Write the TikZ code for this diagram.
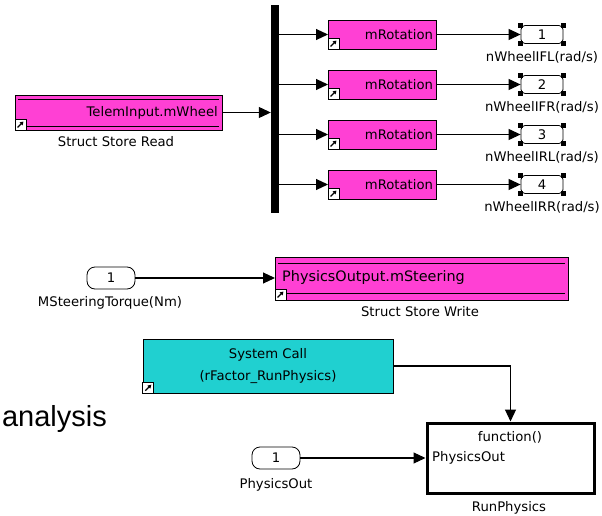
\documentclass[tikz,border=0pt]{standalone}
\usepackage{fontspec}
\setmainfont{DejaVu Sans}
\newfontfamily\slidefont{Liberation Sans}
\usetikzlibrary{arrows.meta,positioning}
\definecolor{mag}{RGB}{255,64,212}
\definecolor{cyn}{RGB}{32,208,208}
% shortcut mark in the lower left corner of a block
\newcommand\lnk[1]{%
  \draw[fill=white, line width=0.8pt] (#1) rectangle ++(11,-11);
  \draw[line width=1.2pt, -{Triangle[length=3.5pt,width=4pt]}] ([shift={(2.5,-2.5)}]#1) -- ++(6,-6);}

\begin{document}
\begin{tikzpicture}[x=1pt, y=-1pt, font=\fontsize{13.2}{16}\selectfont,
  arr/.style={-{Triangle[length=12pt,width=11pt]}, line width=1.1pt},
  blk/.style={draw, fill=mag, inner sep=0pt, outer sep=0pt},
  port/.style={draw, line width=0.8pt, rounded corners=8pt, minimum width=48pt, minimum height=22pt, inner sep=0pt},
  lbl/.style={inner sep=0pt}]
\useasboundingbox (0,0) rectangle (602,516);

% store read and bus
\node[blk, minimum width=207pt, minimum height=35pt] (ssr) at (118.5,112.5) {};
\draw ([shift={(3,4)}]ssr.north west) -- ([shift={(-3,4)}]ssr.north east);
\draw ([shift={(3,-4)}]ssr.south west) -- ([shift={(-3,-4)}]ssr.south east);
\node[left, inner sep=0pt] at ([xshift=-4pt]ssr.east) {TelemInput.mWheel};
\lnk{ssr.south west}
\node[lbl] at (116,142) {Struct Store Read};
\node[fill=black, minimum width=8pt, minimum height=208pt, inner sep=0pt] (bus) at (275,109) {};
\draw[arr] (ssr.east) -- (ssr.east -| bus.west);

\foreach \i/\n/\y in {1/FL/34.5, 2/FR/84.5, 3/RL/134.5, 4/RR/184.5} {
  \node[blk, minimum width=108pt, minimum height=29pt, text width=102pt, align=right, inner xsep=3pt] (r\i) at (382,\y) {mRotation};
  \lnk{r\i.south west}
  \node[port, rounded corners=4pt, minimum width=42pt, minimum height=18pt] (o\i) at (542,\y) {\i};
  \foreach \a in {north west,north east,south west,south east}
    \fill (o\i.\a) ++(-2.5,-2.5) rectangle ++(5,5);
  \node[lbl] at (542,\y+23) {nWheelI\n(rad/s)};
  \draw[arr] (bus.east |- r\i.west) -- (r\i.west);
  \draw[arr] (r\i.east) -- (o\i.west);
}

% store write
\node[port] (in1) at (111,278) {1};
\node[lbl] at (110,303) {MSteeringTorque(Nm)};
\node[blk, minimum width=293pt, minimum height=43pt] (ssw) at (421.5,278.5) {};
\draw ([shift={(3,6)}]ssw.north west) -- ([shift={(-3,6)}]ssw.north east);
\draw ([shift={(3,-7)}]ssw.south west) -- ([shift={(-3,-7)}]ssw.south east);
\node[right, inner sep=0pt, font=\fontsize{14.4}{17}\selectfont] at ([xshift=7pt,yshift=1pt]ssw.west) {PhysicsOutput.mSteering};
\lnk{ssw.south west}
\node[lbl] at (420,312) {Struct Store Write};
\draw[arr] (in1) -- (ssw.west |- in1);

% system call and function block
\node[draw, fill=cyn, minimum width=250pt, minimum height=54pt, inner sep=0pt, align=center,
  font=\fontsize{13.2}{22}\selectfont] (sc) at (268,366) {System Call\\(rFactor\_RunPhysics)};
\lnk{sc.south west}
\node[anchor=base east, inner sep=0pt, font=\slidefont\fontsize{29}{32}\selectfont] (an) at (107,426) {analysis};
\node[draw, line width=3pt, minimum width=167pt, minimum height=70pt, inner sep=0pt] (rp) at (510.5,458) {};
\node[lbl] at (510,437) {function()};
\node[lbl, anchor=west] at (432,458) {PhysicsOut};
\node[lbl] at (509,508) {RunPhysics};
\node[port] (in2) at (276,458) {1};
\node[lbl] at (276,485) {PhysicsOut};
\draw[arr] (in2) -- (rp.west);
\draw[arr] (sc.east) -| (rp.north);
\end{tikzpicture}
\end{document}
